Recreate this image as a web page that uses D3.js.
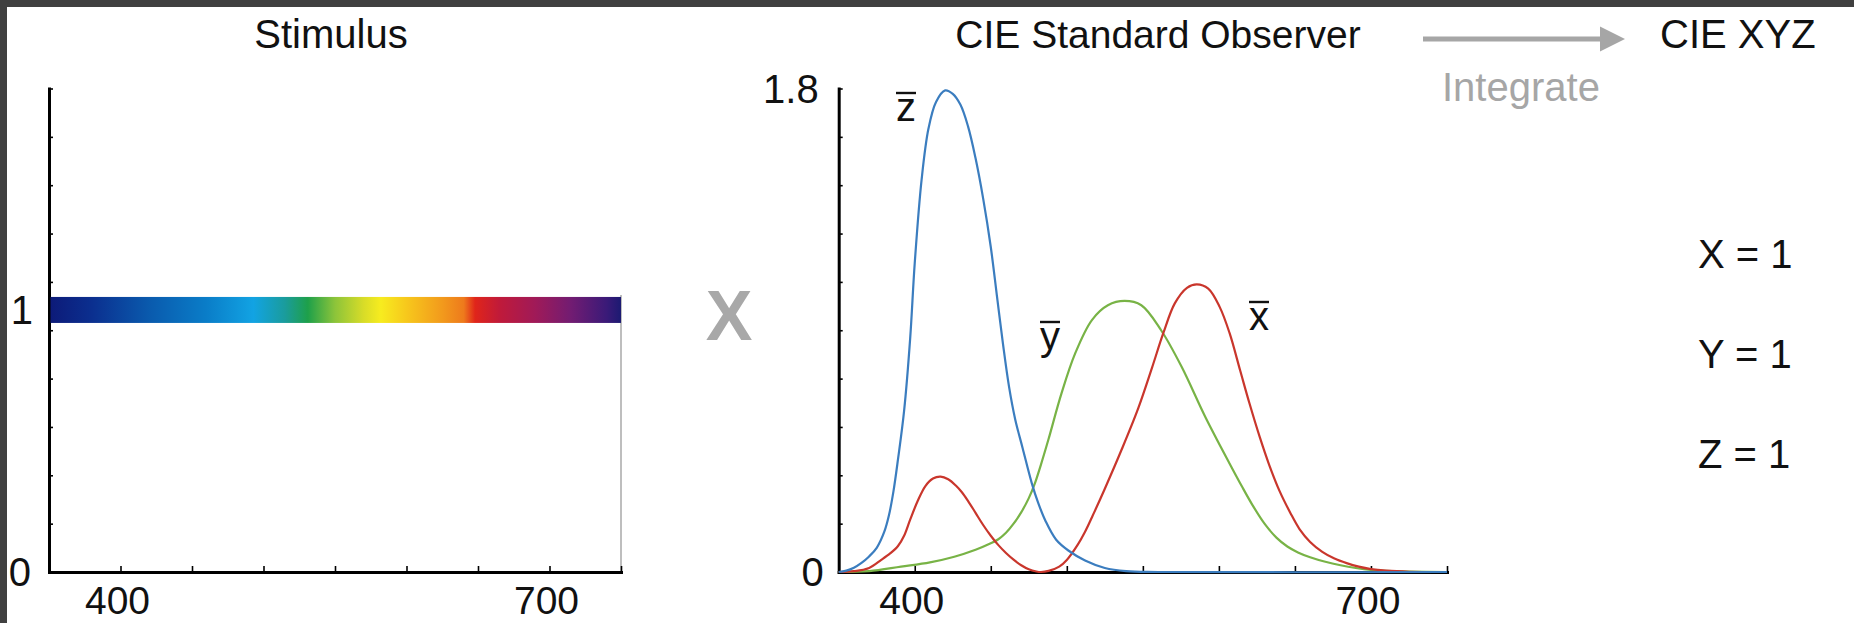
<!DOCTYPE html>
<html>
<head>
<meta charset="utf-8">
<script src="https://cdn.jsdelivr.net/npm/d3@7"></script>
<style>
  html, body { margin: 0; padding: 0; background: #404040; }
  svg { display: block; }
  text { font-family: "Liberation Sans", Arial, sans-serif; }
</style>
</head>
<body>
<svg id="chart" width="1854" height="623"></svg>
<script>
// wavelength axis (nm)
const nmDomain = [350, 750];
const nmTicks = [400, 450, 500, 550, 600, 650, 700, 750];
const nmLabels = [400, 700];

// stimulus: flat spectrum at 1
const stimulusLevel = 1;
const spectrumNm = [350, 380, 420, 460, 493, 515, 531, 550, 570, 582, 600, 625, 640, 648, 665, 690, 715, 740, 750];
const spectrumColors = ["#0d1a78", "#0b2f8f", "#0a5aad", "#0a7dc8", "#12a3e3", "#1a9c9c", "#1ea04a", "#8cc43a",
  "#d8dc28", "#f7ec1f", "#f7c81c", "#f29a1c", "#ee7a1c", "#e0251a", "#c01a3a", "#a01a58", "#721c72", "#3a1a78", "#1c1a72"];

// colour matching functions: [nm, value]
const xBar = [[350,0],[360,0.003],[370,0.015],[378,0.045],[384,0.07],[389,0.097],[393,0.135],[397,0.195],[402,0.265],
  [407,0.32],[412,0.348],[417,0.355],[422,0.345],[427,0.322],[431,0.297],[435,0.265],[440,0.22],[445,0.175],[450,0.135],
  [455,0.1],[460,0.071],[465,0.046],[470,0.025],[475,0.01],[480,0.002],[483,0],[488,0.004],[495,0.02],[500,0.045],
  [507,0.1],[512,0.15],[518,0.222],[525,0.31],[536,0.455],[547,0.61],[556,0.76],[563.5,0.89],[571,1.0],[579,1.058],
  [585.5,1.071],[593,1.055],[600.5,0.987],[607,0.89],[614,0.75],[620,0.63],[627,0.5],[633,0.4],[640,0.3],[647,0.22],
  [653,0.16],[660,0.112],[668,0.075],[676,0.05],[684,0.033],[692,0.02],[700,0.011],[710,0.005],[725,0.001],[750,0]];
const yBar = [[350,0],[370,0.003],[391,0.02],[410,0.036],[426,0.057],[440,0.083],[450,0.107],[455,0.122],[460,0.146],
  [465,0.18],[470,0.222],[475,0.275],[479,0.33],[483,0.4],[488,0.495],[496.5,0.665],[505.5,0.814],[516.5,0.938],
  [527,0.993],[538,1.009],[549,0.993],[562,0.9],[575.5,0.764],[591,0.578],[607,0.404],[615,0.32],[622,0.25],[630,0.18],
  [638,0.127],[645,0.095],[652,0.073],[660,0.055],[670,0.038],[680,0.025],[690,0.015],[700,0.008],[720,0.002],[750,0]];
const zBar = [[350,0],[355,0.005],[360,0.016],[365,0.034],[370,0.058],[375,0.09],[380,0.15],[383,0.21],[386,0.3],
  [389,0.42],[393,0.6],[397,0.87],[400,1.15],[404.5,1.46],[409,1.65],[414,1.75],[420,1.793],[425,1.78],[430,1.74],
  [435,1.66],[440,1.54],[445,1.39],[450,1.21],[454,1.03],[458,0.85],[462,0.69],[466,0.57],[471,0.46],[477,0.33],
  [481,0.26],[486,0.19],[493,0.12],[501,0.08],[512,0.043],[525,0.015],[539,0.003],[560,0],[750,0]];

const observerMax = 1.8;
const observerLabels = ["1.8", "0"];
const tristimulusNames = ["X", "Y", "Z"];
const tristimulusValues = [1, 1, 1];

const svg = d3.select("#chart");
const W = 1854, H = 623;

svg.append("rect").attr("x", 7).attr("y", 7).attr("width", W - 7).attr("height", H - 7).attr("fill", "#fff");

const plotTop = 88.5, plotBottom = 572;
const xL = d3.scaleLinear().domain(nmDomain).range([49, 621]);
const yL = d3.scaleLinear().domain([0, 1.845]).range([plotBottom, plotTop]);
const xR = d3.scaleLinear().domain(nmDomain).range([838.7, 1447]);
const yR = d3.scaleLinear().domain([0, observerMax]).range([plotBottom, plotTop]);

function drawAxes(g, x, y) {
  const yTicks = d3.range(11).map(i => y.domain()[1] * i / 10);
  const ax = g.append("g").attr("transform", `translate(0,${plotBottom})`)
    .call(d3.axisBottom(x).tickValues(nmTicks).tickSizeInner(-6).tickSizeOuter(0).tickFormat(""));
  const ay = g.append("g").attr("transform", `translate(${x.range()[0]},0)`)
    .call(d3.axisLeft(y).tickValues(yTicks).tickSizeInner(-4).tickSizeOuter(0).tickFormat(""));
  [ax, ay].forEach(a => {
    a.select(".domain").attr("stroke", "#000").attr("stroke-width", 3).attr("stroke-linecap", "square");
    a.selectAll(".tick line").attr("stroke", "#000").attr("stroke-width", 1.6);
  });
  g.selectAll(".nmlabel").data(nmLabels).enter().append("text")
    .attr("x", d => x(d) - 3).attr("y", 614)
    .attr("text-anchor", "middle").attr("font-size", 39).attr("fill", "#111")
    .text(d => d);
}

// ---- left: stimulus ----
const gL = svg.append("g");
const grad = svg.append("defs").append("linearGradient").attr("id", "spectrum")
  .attr("gradientUnits", "userSpaceOnUse")
  .attr("x1", xL(nmDomain[0])).attr("x2", xL(nmDomain[1])).attr("y1", 0).attr("y2", 0);
grad.selectAll("stop").data(spectrumNm).enter().append("stop")
  .attr("offset", d => (d - nmDomain[0]) / (nmDomain[1] - nmDomain[0]))
  .attr("stop-color", (d, i) => spectrumColors[i]);

gL.append("line")
  .attr("x1", xL(nmDomain[1])).attr("x2", xL(nmDomain[1]))
  .attr("y1", yL(stimulusLevel) - 15).attr("y2", yL(0))
  .attr("stroke", "#a8a8a8").attr("stroke-width", 1.5);

drawAxes(gL, xL, yL);

gL.append("rect")
  .attr("x", xL(nmDomain[0]) + 1.5).attr("width", xL(nmDomain[1]) - xL(nmDomain[0]) - 1.5)
  .attr("y", yL(stimulusLevel) - 13).attr("height", 26)
  .attr("fill", "url(#spectrum)");

gL.append("text").attr("x", 31).attr("y", yL(0) + 14).attr("text-anchor", "end")
  .attr("font-size", 40).attr("fill", "#111").text("0");
gL.append("text").attr("x", 33).attr("y", yL(stimulusLevel) + 14).attr("text-anchor", "end")
  .attr("font-size", 40).attr("fill", "#111").text(stimulusLevel);
gL.append("text").attr("x", 331).attr("y", 48).attr("text-anchor", "middle")
  .attr("font-size", 40).attr("fill", "#111").text("Stimulus");

// ---- multiply sign ----
svg.append("text").attr("x", 729).attr("y", 340).attr("text-anchor", "middle")
  .attr("font-size", 70).attr("font-weight", "bold").attr("fill", "#a8a8a8").text("X");

// ---- right: CIE standard observer ----
const gR = svg.append("g");
drawAxes(gR, xR, yR);

const line = d3.line().x(d => xR(d[0])).y(d => yR(Math.max(0, d[1]))).curve(d3.curveCatmullRom.alpha(0.5));
const curves = [
  { data: yBar, color: "#78b346" },
  { data: xBar, color: "#c9362c" },
  { data: zBar, color: "#3b7dbf" }
];
gR.selectAll(".cmf").data(curves).enter().append("path")
  .attr("d", d => line(d.data))
  .attr("fill", "none").attr("stroke", d => d.color).attr("stroke-width", 2.2);

gR.append("text").attr("x", xR.range()[0] - 20).attr("y", yR(observerMax) + 14.5).attr("text-anchor", "end")
  .attr("font-size", 40).attr("fill", "#111").text(observerLabels[0]);
gR.append("text").attr("x", xR.range()[0] - 15).attr("y", yR(0) + 14).attr("text-anchor", "end")
  .attr("font-size", 40).attr("fill", "#111").text(observerLabels[1]);
gR.append("text").attr("x", 1158).attr("y", 48).attr("text-anchor", "middle")
  .attr("font-size", 39).attr("fill", "#111").text("CIE Standard Observer");

// curve labels with overbars
const barLabels = [
  { t: "z", x: 906, y: 121 },
  { t: "y", x: 1050, y: 350 },
  { t: "x", x: 1259, y: 330 }
];
barLabels.forEach(l => {
  gR.append("text").attr("x", l.x).attr("y", l.y).attr("text-anchor", "middle")
    .attr("font-size", 40).attr("fill", "#111").text(l.t);
  gR.append("line").attr("x1", l.x - 10).attr("x2", l.x + 10)
    .attr("y1", l.y - 28).attr("y2", l.y - 28)
    .attr("stroke", "#111").attr("stroke-width", 2.4);
});

// ---- integrate arrow and result ----
svg.append("line").attr("x1", 1423).attr("x2", 1602).attr("y1", 39).attr("y2", 39)
  .attr("stroke", "#a6a6a6").attr("stroke-width", 5);
svg.append("path").attr("d", "M1600,26.5 L1625,39 L1600,51.5 Z").attr("fill", "#a6a6a6");
svg.append("text").attr("x", 1442).attr("y", 101).attr("font-size", 40).attr("fill", "#a6a6a6").text("Integrate");
svg.append("text").attr("x", 1660).attr("y", 48).attr("font-size", 40).attr("fill", "#111").text("CIE XYZ");

svg.selectAll(".tri").data(tristimulusNames).enter().append("text")
  .attr("x", 1698).attr("y", (d, i) => 268 + i * 100)
  .attr("font-size", 40).attr("fill", "#111")
  .text((d, i) => `${d} = ${tristimulusValues[i]}`);

// dark frame on top
svg.append("rect").attr("x", 0).attr("y", 0).attr("width", W).attr("height", 7).attr("fill", "#404040");
svg.append("rect").attr("x", 0).attr("y", 0).attr("width", 7).attr("height", H).attr("fill", "#404040");
</script>
</body>
</html>
